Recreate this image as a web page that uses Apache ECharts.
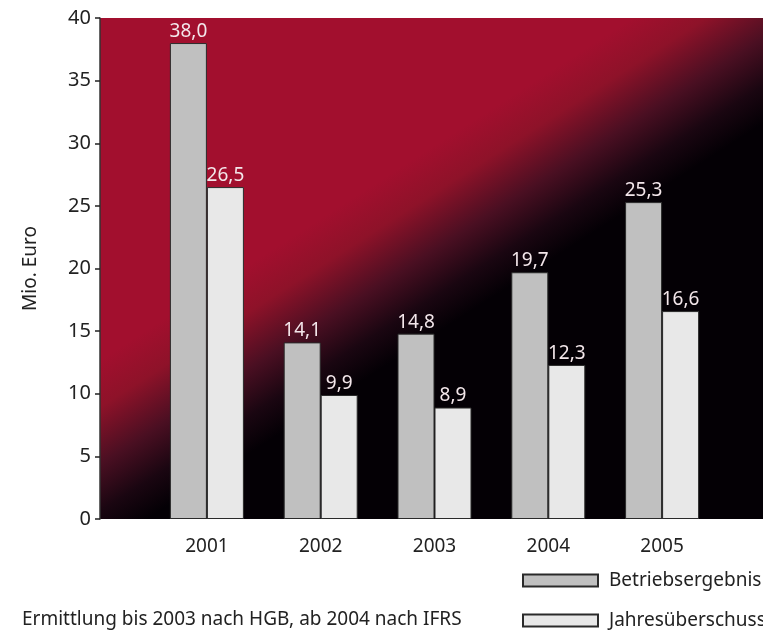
<!DOCTYPE html>
<html>
<head>
<meta charset="utf-8">
<script src="https://cdn.jsdelivr.net/npm/echarts@6/dist/echarts.min.js"></script>
<style>
  html, body { margin: 0; padding: 0; background: #fff; }
  #chart { width: 763px; height: 630px; }
</style>
</head>
<body>
<div id="chart"></div>
<script>
// Jahreswerte in Mio. Euro
const years = ['2001', '2002', '2003', '2004', '2005'];
const betriebsergebnis = [38.0, 14.1, 14.8, 19.7, 25.3];
const jahresueberschuss = [26.5, 9.9, 8.9, 12.3, 16.6];
const seriesNames = ['Betriebsergebnis', 'Jahresüberschuss'];

const FONT = 'Noto Sans';
const chart = echarts.init(document.getElementById('chart'));

const fmt = v => v.toFixed(1).replace('.', ',');

const barLabel = {
  show: true,
  position: 'top',
  distance: 2,
  color: '#f3e6ea',
  fontFamily: FONT,
  fontSize: 19,
  formatter: p => fmt(p.value)
};

// one legend block per series so the two rows sit at fixed heights
const legendBlock = (name, top) => ({
  orient: 'vertical',
  left: 522,
  top: top,
  padding: 0,
  itemWidth: 75,
  itemHeight: 12,
  icon: 'rect',
  textStyle: { fontFamily: FONT, fontSize: 19, color: '#222', padding: [0, 0, 0, 6] },
  data: [name]
});

chart.setOption({
  animation: false,
  legend: [legendBlock(seriesNames[0], 571), legendBlock(seriesNames[1], 611)],
  grid: [
    {
      left: 100, right: 0, top: 18, bottom: 111,
      show: true,
      borderWidth: 0,
      backgroundColor: new echarts.graphic.LinearGradient(262, 256, 348, 390, [
        { offset: 0, color: '#a20f2e' },
        { offset: 0.25, color: '#8e1229' },
        { offset: 0.55, color: '#4a0f22' },
        { offset: 0.8, color: '#1a0611' },
        { offset: 1, color: '#040005' }
      ], true)
    },
    { left: 150, right: 44, top: 18, bottom: 111 }
  ],
  xAxis: [
    { gridIndex: 0, type: 'value', show: false, min: 0, max: 1 },
    {
      gridIndex: 1,
      type: 'category',
      data: years,
      axisLine: { show: false },
      axisTick: { show: false },
      axisLabel: { fontFamily: FONT, fontSize: 19, color: '#222', margin: 18 }
    }
  ],
  yAxis: [
    {
      gridIndex: 0,
      type: 'value',
      min: 0, max: 40, interval: 5,
      name: 'Mio. Euro',
      nameLocation: 'middle',
      nameGap: 60,
      nameRotate: 90,
      nameTextStyle: { fontFamily: FONT, fontSize: 19, color: '#222' },
      axisLine: { show: true, lineStyle: { color: '#333', width: 1.5 } },
      axisTick: { show: true, length: 5, lineStyle: { color: '#222', width: 1.5 } },
      axisLabel: { fontFamily: FONT, fontSize: 20, color: '#222', margin: 9 },
      splitLine: { show: false }
    },
    { gridIndex: 1, type: 'value', min: 0, max: 40, show: false, splitLine: { show: false } }
  ],
  series: [
    {
      name: seriesNames[0],
      type: 'bar',
      xAxisIndex: 1, yAxisIndex: 1,
      data: betriebsergebnis,
      barWidth: 37,
      barGap: 0,
      itemStyle: { color: '#c0c0c0', borderColor: '#2a2a2a', borderWidth: 1 },
      label: barLabel
    },
    {
      name: seriesNames[1],
      type: 'bar',
      xAxisIndex: 1, yAxisIndex: 1,
      data: jahresueberschuss,
      barWidth: 37,
      itemStyle: { color: '#e8e8e8', borderColor: '#2a2a2a', borderWidth: 1 },
      label: barLabel
    }
  ],
  graphic: [
    {
      type: 'text',
      left: 22,
      top: 610,
      style: { text: 'Ermittlung bis 2003 nach HGB, ab 2004 nach IFRS', fontFamily: FONT, fontSize: 19, fill: '#222' }
    }
  ]
});
</script>
</body>
</html>
